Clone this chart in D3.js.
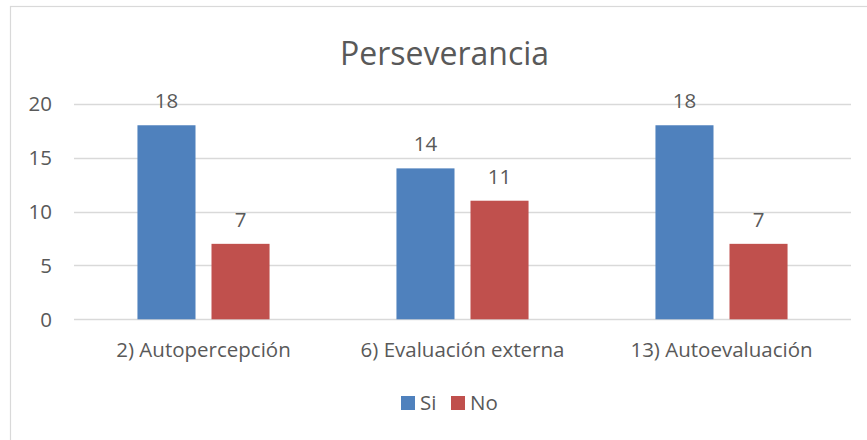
<!DOCTYPE html>
<html>
<head>
<meta charset="utf-8">
<script src="https://cdn.jsdelivr.net/npm/d3@7"></script>
<style>
  body { margin: 0; background: #fff; }
  text { font-family: "Open Sans", "Noto Sans", sans-serif; fill: #595959; }
</style>
</head>
<body>
<svg id="chart" width="867" height="440"></svg>
<script>
// chart data
const categories = ["2) Autopercepción", "6) Evaluación externa", "13) Autoevaluación"];
const seriesNames = ["Si", "No"];
const siValues = [18, 14, 18];
const noValues = [7, 11, 7];
const yTicks = [0, 5, 10, 15, 20];
const title = "Perseverancia";

const colors = {Si: "#4F81BD", No: "#C0504D"};
const margin = {top: 104, right: 16, bottom: 121, left: 74};
const width = 867, height = 440;
const fontSize = 20.5;

const data = categories.map((c, i) => ({cat: c, values: [
    {key: "Si", value: siValues[i]},
    {key: "No", value: noValues[i]}
]}));

const svg = d3.select("#chart");

// outer chart border (right/bottom run off the picture)
svg.append("rect")
    .attr("x", 10.5).attr("y", 6.5)
    .attr("width", 880).attr("height", 460)
    .attr("fill", "none")
    .attr("stroke", "#D9D9D9")
    .attr("stroke-width", 1.2);

const x0 = d3.scaleBand()
    .domain(categories)
    .range([margin.left, width - margin.right])
    .paddingInner(0.49)
    .paddingOuter(0.245);

const x1 = d3.scaleBand()
    .domain(seriesNames)
    .range([0, x0.bandwidth()])
    .paddingInner(0.216);

const y = d3.scaleLinear()
    .domain([0, 20])
    .range([height - margin.bottom + 0.3, margin.top - 0.3]);

// gridlines
svg.append("g")
    .selectAll("line")
    .data(yTicks)
    .join("line")
    .attr("x1", margin.left)
    .attr("x2", width - margin.right)
    .attr("y1", d => Math.round(y(d)) + 0.5)
    .attr("y2", d => Math.round(y(d)) + 0.5)
    .attr("stroke", "#D9D9D9")
    .attr("stroke-width", 1.3);

// y tick labels
svg.append("g")
    .selectAll("text")
    .data(yTicks)
    .join("text")
    .attr("x", 52)
    .attr("y", d => y(d))
    .attr("dy", "0.36em")
    .attr("text-anchor", "end")
    .attr("font-size", fontSize)
    .text(d => d);

// bars
const groups = svg.append("g")
    .selectAll("g")
    .data(data)
    .join("g")
    .attr("transform", d => `translate(${x0(d.cat)},0)`);

groups.selectAll("rect")
    .data(d => d.values)
    .join("rect")
    .attr("x", d => x1(d.key))
    .attr("width", x1.bandwidth())
    .attr("y", d => y(d.value))
    .attr("height", d => y(0) - y(d.value))
    .attr("fill", d => colors[d.key]);

// value labels
groups.selectAll("text")
    .data(d => d.values)
    .join("text")
    .attr("x", d => x1(d.key) + x1.bandwidth() / 2)
    .attr("y", d => y(d.value) - 17)
    .attr("text-anchor", "middle")
    .attr("font-size", fontSize)
    .text(d => d.value);

// category labels
svg.append("g")
    .selectAll("text")
    .data(categories)
    .join("text")
    .attr("x", d => x0(d) + x0.bandwidth() / 2)
    .attr("y", 357)
    .attr("text-anchor", "middle")
    .attr("font-size", fontSize)
    .text(d => d);

// title
svg.append("text")
    .attr("x", (margin.left + width - margin.right) / 2 - 18)
    .attr("y", 65)
    .attr("text-anchor", "middle")
    .attr("font-size", 32)
    .text(title);

// legend
const legend = svg.append("g").attr("transform", "translate(401,396)");
const legendX = [0, 50];
const items = legend.selectAll("g")
    .data(seriesNames)
    .join("g")
    .attr("transform", (d, i) => `translate(${legendX[i]},0)`);
items.append("rect")
    .attr("width", 14).attr("height", 14)
    .attr("fill", d => colors[d]);
items.append("text")
    .attr("x", 19)
    .attr("y", 14)
    .attr("font-size", fontSize)
    .text(d => d);
</script>
</body>
</html>
